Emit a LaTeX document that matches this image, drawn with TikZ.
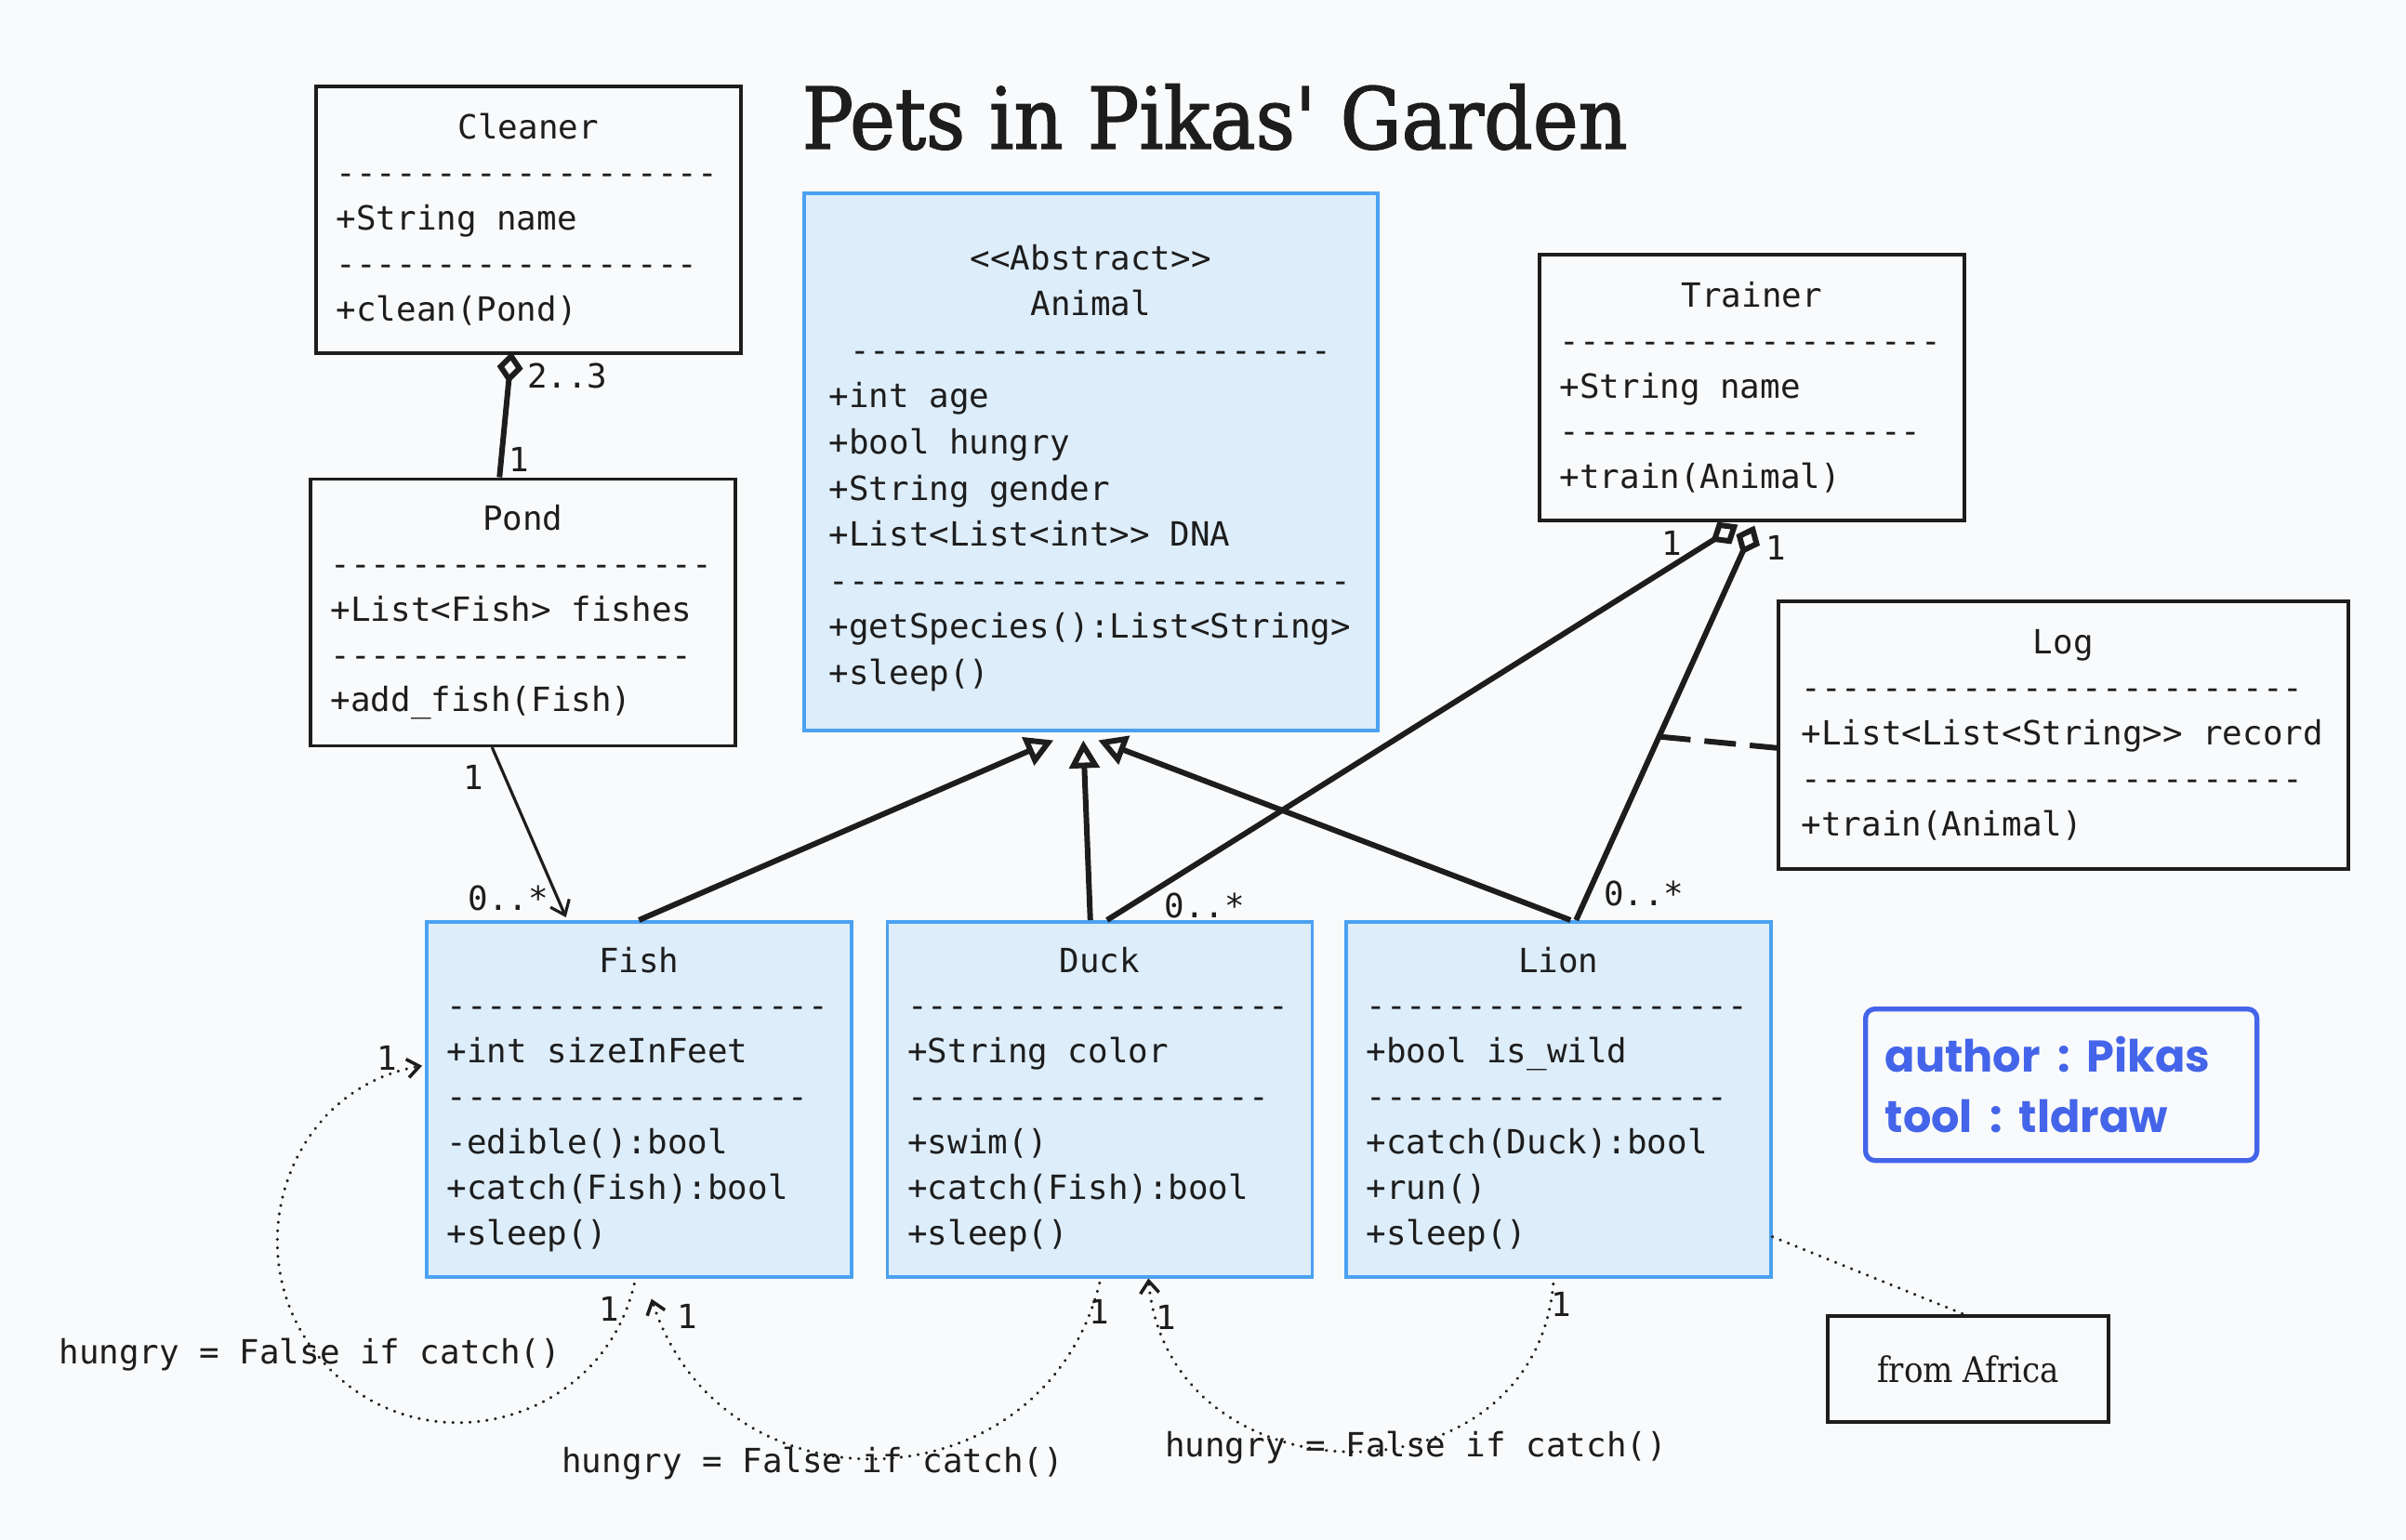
\documentclass[tikz,border=0pt]{standalone}
\usepackage{fontspec}
\usepackage{graphicx}
\usepackage{xcolor}
\usetikzlibrary{arrows.meta,positioning,calc}
\setmonofont{DejaVu Sans Mono}
\IfFontExistsTF{DejaVu Serif Condensed}
  {\newfontfamily\titlefont{DejaVu Serif Condensed}
   \newfontfamily\headfont{DejaVu Serif Condensed}[FakeBold=1.6]}
  {\newfontfamily\titlefont{DejaVu Serif}
   \newfontfamily\headfont{DejaVu Serif}[FakeBold=1.6]}
\newfontfamily\handfont{Poppins}
\definecolor{ink}{HTML}{1D1D1D}
\definecolor{paper}{HTML}{F9FAFB}
\definecolor{classfill}{HTML}{DDEDFA}
\definecolor{classline}{HTML}{4BA1F1}
\definecolor{noteblue}{HTML}{4465E9}
\newcommand{\umlfont}{\ttfamily\fontsize{10.2}{13.9}\selectfont}
\newcommand{\ctrline}[1]{\hfill#1\hfill\null}
\tikzset{
  umlclass/.style={
    draw=ink,
    line width=1pt,
    font=\umlfont,
    text=ink,
    align=left,
    execute at begin node={\spaceskip=0pt\xspaceskip=0pt\relax},
    inner xsep=2.2mm,
    inner ysep=0pt,
    text width=41.3mm,
    minimum height=28.7mm
  },
  abstractclass/.style={
    umlclass,
    fill=classfill,
    draw=classline,
    font=\ttfamily\fontsize{10.2}{14.1}\selectfont,
    text width=56.3mm,
    text height=11.5pt,
    inner xsep=2.7mm,
    minimum height=57.8mm
  },
  petclass/.style={
    umlclass,
    fill=classfill,
    draw=classline,
    minimum height=38.2mm
  },
  logclass/.style={
    umlclass,
    text width=56.3mm,
    inner xsep=2.5mm,
    minimum height=28.8mm
  },
  heading/.style={
    text=ink,
    inner sep=0pt,
    anchor=base west
  },
  memo/.style={
    draw=noteblue,
    line width=1.5pt,
    rounded corners=1mm,
    text=noteblue,
    font=\handfont\bfseries\fontsize{13.6}{18.5}\selectfont,
    align=left,
    execute at begin node={\spaceskip=0.38em\xspaceskip=0.38em\relax},
    text width=37.9mm,
    inner xsep=2.1mm,
    minimum height=16.3mm
  },
  plainnote/.style={
    draw=ink,
    line width=1.2pt,
    text=ink,
    font=\titlefont\fontsize{10.8}{14}\selectfont,
    minimum width=30.2mm,
    minimum height=11.4mm
  },
  mult/.style={
    font=\umlfont,
    text=ink,
    inner sep=0pt
  },
  inherit/.style={
    -{Triangle[open,length=3mm,width=3.2mm]},
    draw=ink,
    line width=1.7pt
  },
  aggregation/.style={
    -{Diamond[open,length=3.4mm,width=2.8mm]},
    draw=ink,
    line width=1.7pt
  },
  navigate/.style={
    -{Straight Barb[length=1.4mm,width=2.2mm]},
    draw=ink,
    line width=0.9pt
  },
  selfcall/.style={
    -{Straight Barb[length=1.3mm,width=2mm]},
    draw=ink,
    line width=1pt,
    line cap=round,
    dash pattern=on 0.01pt off 2.6pt
  },
  logdash/.style={
    draw=ink,
    line width=1.7pt,
    dash pattern=on 3.4mm off 1.5mm
  },
  remark/.style={
    draw=ink,
    line width=1pt,
    line cap=round,
    dash pattern=on 0.01pt off 2.6pt
  }
}

\begin{document}
\begin{tikzpicture}[x=1cm,y=1cm]
\useasboundingbox (0,0) rectangle (25.88,-16.57);
\fill[paper] (0,0) rectangle (25.88,-16.57);

% ---------------------------------------------------------------------------
% Title
% ---------------------------------------------------------------------------
\node[heading] (title) at (8.62,-1.60)
  {\resizebox{8.88cm}{!}{\headfont Pets in Pikas' Garden}};

% ---------------------------------------------------------------------------
% Classes
% ---------------------------------------------------------------------------
\node[umlclass, anchor=north west] (cleaner) at (3.38,-0.91)
  {\ctrline{Cleaner}\\
   -------------------\\
   +String name\\
   ------------------\\
   +clean(Pond)};
\node[umlclass, below=13.2mm of cleaner, xshift=-0.6mm] (pond)
  {\ctrline{Pond}\\
   -------------------\\
   +List<Fish> fishes\\
   ------------------\\
   +add\_fish(Fish)};
\node[abstractclass, anchor=north west] (animal) at (8.63,-2.06)
  {\ctrline{<<Abstract>>}\\
   \ctrline{Animal}\\
   \ctrline{------------------------}\\
   +int age\\
   +bool hungry\\
   +String gender\\
   +List<List<int>> DNA\\
   --------------------------\\
   +getSpecies():List<String>\\
   +sleep()};
\node[umlclass, anchor=north west, minimum height=28.6mm] (trainer) at (16.54,-2.72)
  {\ctrline{Trainer}\\
   -------------------\\
   +String name\\
   ------------------\\
   +train(Animal)};
\node[logclass, anchor=north west] (log) at (19.11,-6.45)
  {\ctrline{Log}\\
   -------------------------\\
   +List<List<String>> record\\
   -------------------------\\
   +train(Animal)};
\node[petclass, anchor=north west] (fish) at (4.57,-9.90)
  {\ctrline{Fish}\\
   -------------------\\
   +int sizeInFeet\\
   ------------------\\
   -edible():bool\\
   +catch(Fish):bool\\
   +sleep()};
\node[petclass, right=3.5mm of fish] (duck)
  {\ctrline{Duck}\\
   -------------------\\
   +String color\\
   ------------------\\
   +swim()\\
   +catch(Fish):bool\\
   +sleep()};
\node[petclass, right=3.3mm of duck] (lion)
  {\ctrline{Lion}\\
   -------------------\\
   +bool is\_wild\\
   ------------------\\
   +catch(Duck):bool\\
   +run()\\
   +sleep()};

% ---------------------------------------------------------------------------
% Notes
% ---------------------------------------------------------------------------
\node[memo, anchor=north west] (memo) at (20.04,-10.83)
  {author : Pikas\\tool : tldraw};
\node[plainnote, anchor=north west] (africa) at (19.64,-14.14) {from Africa};

% ---------------------------------------------------------------------------
% Associations
% ---------------------------------------------------------------------------
\draw[aggregation] ([xshift=-2.5mm]pond.north) -- ([xshift=-1.8mm,yshift=0.3mm]cleaner.south)
  node[mult, pos=0, xshift=2.1mm, yshift=1.9mm] {1}
  node[mult, pos=1, xshift=6mm, yshift=-2.6mm] {2..3};
\draw[navigate] ([xshift=-3.3mm]pond.south) -- ([xshift=-7.85mm,yshift=0.3mm]fish.north)
  node[mult, pos=0, xshift=-2mm, yshift=-3.2mm] {1}
  node[mult, pos=1, xshift=-6.2mm, yshift=2.1mm] {0..*};

% Generalisation towards the abstract class.
\draw[inherit] (fish.north) -- ([xshift=-4mm,yshift=-0.9mm]animal.south);
\draw[inherit] ([xshift=-1mm]duck.north) -- ([xshift=-0.8mm,yshift=-0.9mm]animal.south);
\draw[inherit] ([xshift=1.3mm]lion.north) -- ([xshift=0.8mm,yshift=-0.9mm]animal.south);

% Trainer holds the animals it trains.
\draw[aggregation] ([xshift=0.8mm]duck.north) -- ([xshift=-1.5mm,yshift=-0.3mm]trainer.south)
  node[mult, pos=0, xshift=10.5mm, yshift=1.6mm] {0..*}
  node[mult, pos=1, xshift=-7.1mm, yshift=-2mm] {1};
\draw[aggregation] ([xshift=1.9mm]lion.north)
  -- coordinate[pos=0.465] (logjoint) ([xshift=0.3mm,yshift=-0.4mm]trainer.south)
  node[mult, pos=0, xshift=7.3mm, yshift=2.9mm] {0..*}
  node[mult, pos=1, xshift=2.3mm, yshift=-2.4mm] {1};
\draw[logdash] (logjoint) -- ([yshift=-1.4mm]log.west);

% ---------------------------------------------------------------------------
% catch() calls
% ---------------------------------------------------------------------------
\draw[selfcall] ([xshift=-0.5mm,yshift=-0.6mm]fish.south)
  .. controls +(-103:1.53) and +(-46:1.53) .. ($(fish.south)+(-3.34,-0.96)$)
  node[mult, pos=0, xshift=-2.65mm, yshift=-2.7mm] {1}
  node[mult, xshift=-2mm, yshift=1.4mm] {hungry = False if catch()}
  .. controls +(134:1.53) and +(190:1.53) .. ([xshift=-0.3mm,yshift=3.6mm]fish.west)
  node[mult, pos=1, xshift=-3.8mm, yshift=0.8mm] {1};
\draw[selfcall] ([yshift=-0.5mm]duck.south)
  .. controls +(-104:2.5) and +(-72:2.5) .. ([xshift=1.35mm,yshift=-2.2mm]fish.south)
  node[mult, pos=0, yshift=-3.1mm] {1}
  node[mult, pos=0.5, xshift=-7.4mm, yshift=-0.5mm] {hungry = False if catch()}
  node[mult, pos=1, xshift=3.9mm, yshift=-1.9mm] {1};
\draw[selfcall] ([xshift=-0.55mm,yshift=-0.6mm]lion.south)
  .. controls +(-95:2.45) and +(-85:2.45) .. ([xshift=5.25mm]duck.south)
  node[mult, pos=0, xshift=0.8mm, yshift=-2.2mm] {1}
  node[mult, pos=0.5, xshift=7mm, yshift=0.4mm] {hungry = False if catch()}
  node[mult, pos=1, xshift=1.9mm, yshift=-4.2mm] {1};

% Note attached to the lion.
\draw[remark] ([yshift=-14.8mm]lion.east) -- ([xshift=-0.5mm]africa.north);

\end{tikzpicture}
\end{document}
